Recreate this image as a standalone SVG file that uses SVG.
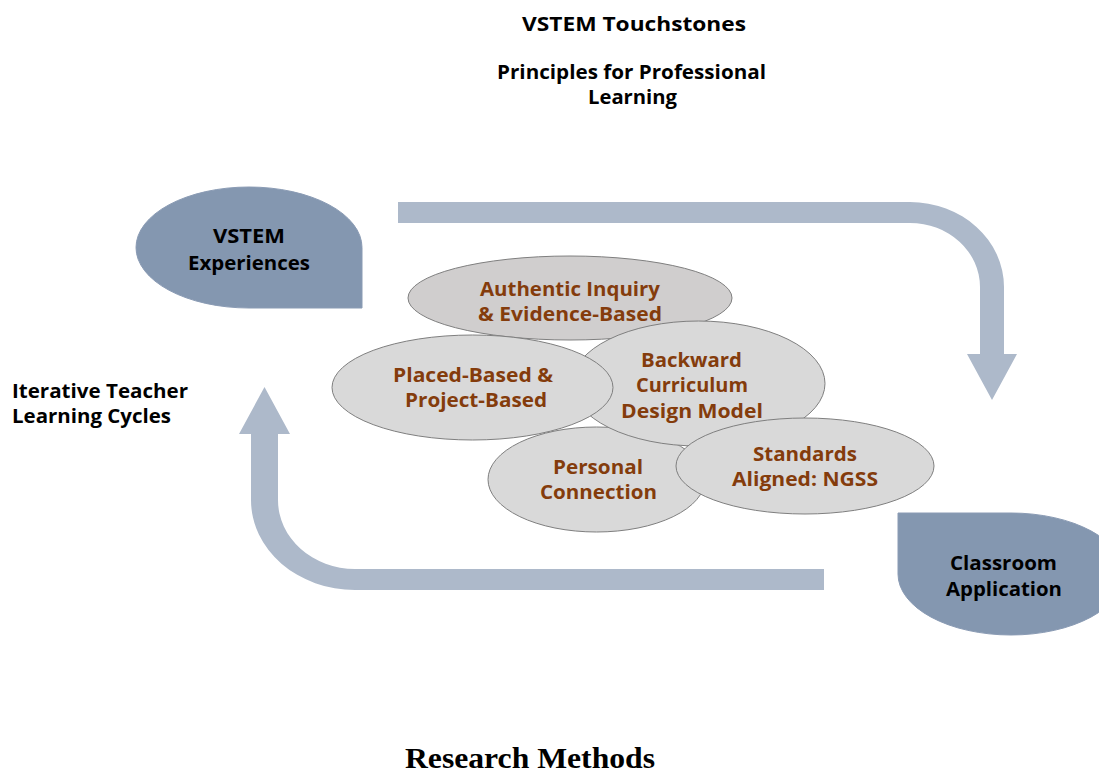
<svg xmlns="http://www.w3.org/2000/svg" width="1099" height="772" viewBox="0 0 1099 772">
<style>
.t{font-family:"Open Sans","Liberation Sans",sans-serif;font-weight:bold;font-size:19.5px;fill:#000;text-anchor:middle}
.b{font-family:"Open Sans","Liberation Sans",sans-serif;font-weight:bold;font-size:19.5px;fill:#843C0C;text-anchor:middle}
.ell{fill:#D9D9D9;stroke:#7F7F7F;stroke-width:1}
.drop{fill:#8497B0;stroke:#8A9BB4;stroke-width:1}
.arr{fill:#ADB9CA}
</style>
<rect width="1099" height="772" fill="#fff"/>
<g id="title">
<text class="t" x="634" y="31" textLength="224" lengthAdjust="spacingAndGlyphs">VSTEM Touchstones</text>
<text class="t" x="631.5" y="79" textLength="269" lengthAdjust="spacingAndGlyphs">Principles for Professional</text>
<text class="t" x="632.5" y="104" textLength="89" lengthAdjust="spacingAndGlyphs">Learning</text>
</g>
<g id="connectors">
<path class="arr" d="M398,202 L910,202 A94,85 0 0 1 1004,287 L1004,354 L1017,354 L992,400 L967,354 L980,354 L980,287 A70,64 0 0 0 910,223 L398,223 Z"/>
<path class="arr" d="M824,569 L355,569 A77,69 0 0 1 278,500 L278,434 L290,434 L264.5,387 L239,434 L251,434 L251,500 A104,90 0 0 0 355,590 L824,590 Z"/>
</g>
<g id="vstem-experiences">
<path class="drop" d="M362,308 L249,308 A113,60.5 0 0 1 136,247.5 A113,60.5 0 0 1 249,187 A113,60.5 0 0 1 362,247.5 Z"/>
<text class="t" x="249" y="243" textLength="72" lengthAdjust="spacingAndGlyphs">VSTEM</text>
<text class="t" x="249" y="270" textLength="122" lengthAdjust="spacingAndGlyphs">Experiences</text>
</g>
<g id="classroom-application">
<path class="drop" d="M898,513 L1011,513 A113,61 0 0 1 1124,574 A113,61 0 0 1 1011,635 A113,61 0 0 1 898,574 Z"/>
<text class="t" x="1003.5" y="570" textLength="107" lengthAdjust="spacingAndGlyphs">Classroom</text>
<text class="t" x="1004" y="596" textLength="116" lengthAdjust="spacingAndGlyphs">Application</text>
</g>
<g id="iterative-label">
<text class="t" x="12" y="398" style="text-anchor:start" textLength="176" lengthAdjust="spacingAndGlyphs">Iterative Teacher</text>
<text class="t" x="12" y="423" style="text-anchor:start" textLength="159" lengthAdjust="spacingAndGlyphs">Learning Cycles</text>
</g>
<g id="authentic">
<ellipse class="ell" cx="570" cy="298" rx="162" ry="42" style="fill:#D0CECE"/>
<text class="b" x="570" y="296" textLength="180" lengthAdjust="spacingAndGlyphs">Authentic Inquiry</text>
<text class="b" x="570" y="321" textLength="184" lengthAdjust="spacingAndGlyphs">&amp; Evidence-Based</text>
</g>
<g id="personal">
<ellipse class="ell" cx="596.5" cy="479.5" rx="108.5" ry="52.5"/>
<text class="b" x="598" y="474" textLength="90" lengthAdjust="spacingAndGlyphs">Personal</text>
<text class="b" x="598.5" y="499" textLength="117" lengthAdjust="spacingAndGlyphs">Connection</text>
</g>
<g id="backward">
<ellipse class="ell" cx="698.5" cy="383.5" rx="126.5" ry="62.5"/>
<text class="b" x="691.5" y="367" textLength="101" lengthAdjust="spacingAndGlyphs">Backward</text>
<text class="b" x="692" y="392" textLength="112" lengthAdjust="spacingAndGlyphs">Curriculum</text>
<text class="b" x="692" y="418" textLength="142" lengthAdjust="spacingAndGlyphs">Design Model</text>
</g>
<g id="placed">
<ellipse class="ell" cx="472.5" cy="387.5" rx="140.5" ry="52.5"/>
<text class="b" x="473" y="382" textLength="160" lengthAdjust="spacingAndGlyphs">Placed-Based &amp;</text>
<text class="b" x="476" y="407" textLength="142" lengthAdjust="spacingAndGlyphs">Project-Based</text>
</g>
<g id="standards">
<ellipse class="ell" cx="805" cy="466" rx="129" ry="48"/>
<text class="b" x="805" y="461" textLength="104" lengthAdjust="spacingAndGlyphs">Standards</text>
<text class="b" x="805" y="486" textLength="146" lengthAdjust="spacingAndGlyphs">Aligned: NGSS</text>
</g>
<g id="footer">
<text x="530" y="768" textLength="250" lengthAdjust="spacingAndGlyphs" style="font-family:'Liberation Serif',serif;font-weight:bold;font-size:30px;fill:#000;text-anchor:middle">Research Methods</text>
</g>
</svg>
